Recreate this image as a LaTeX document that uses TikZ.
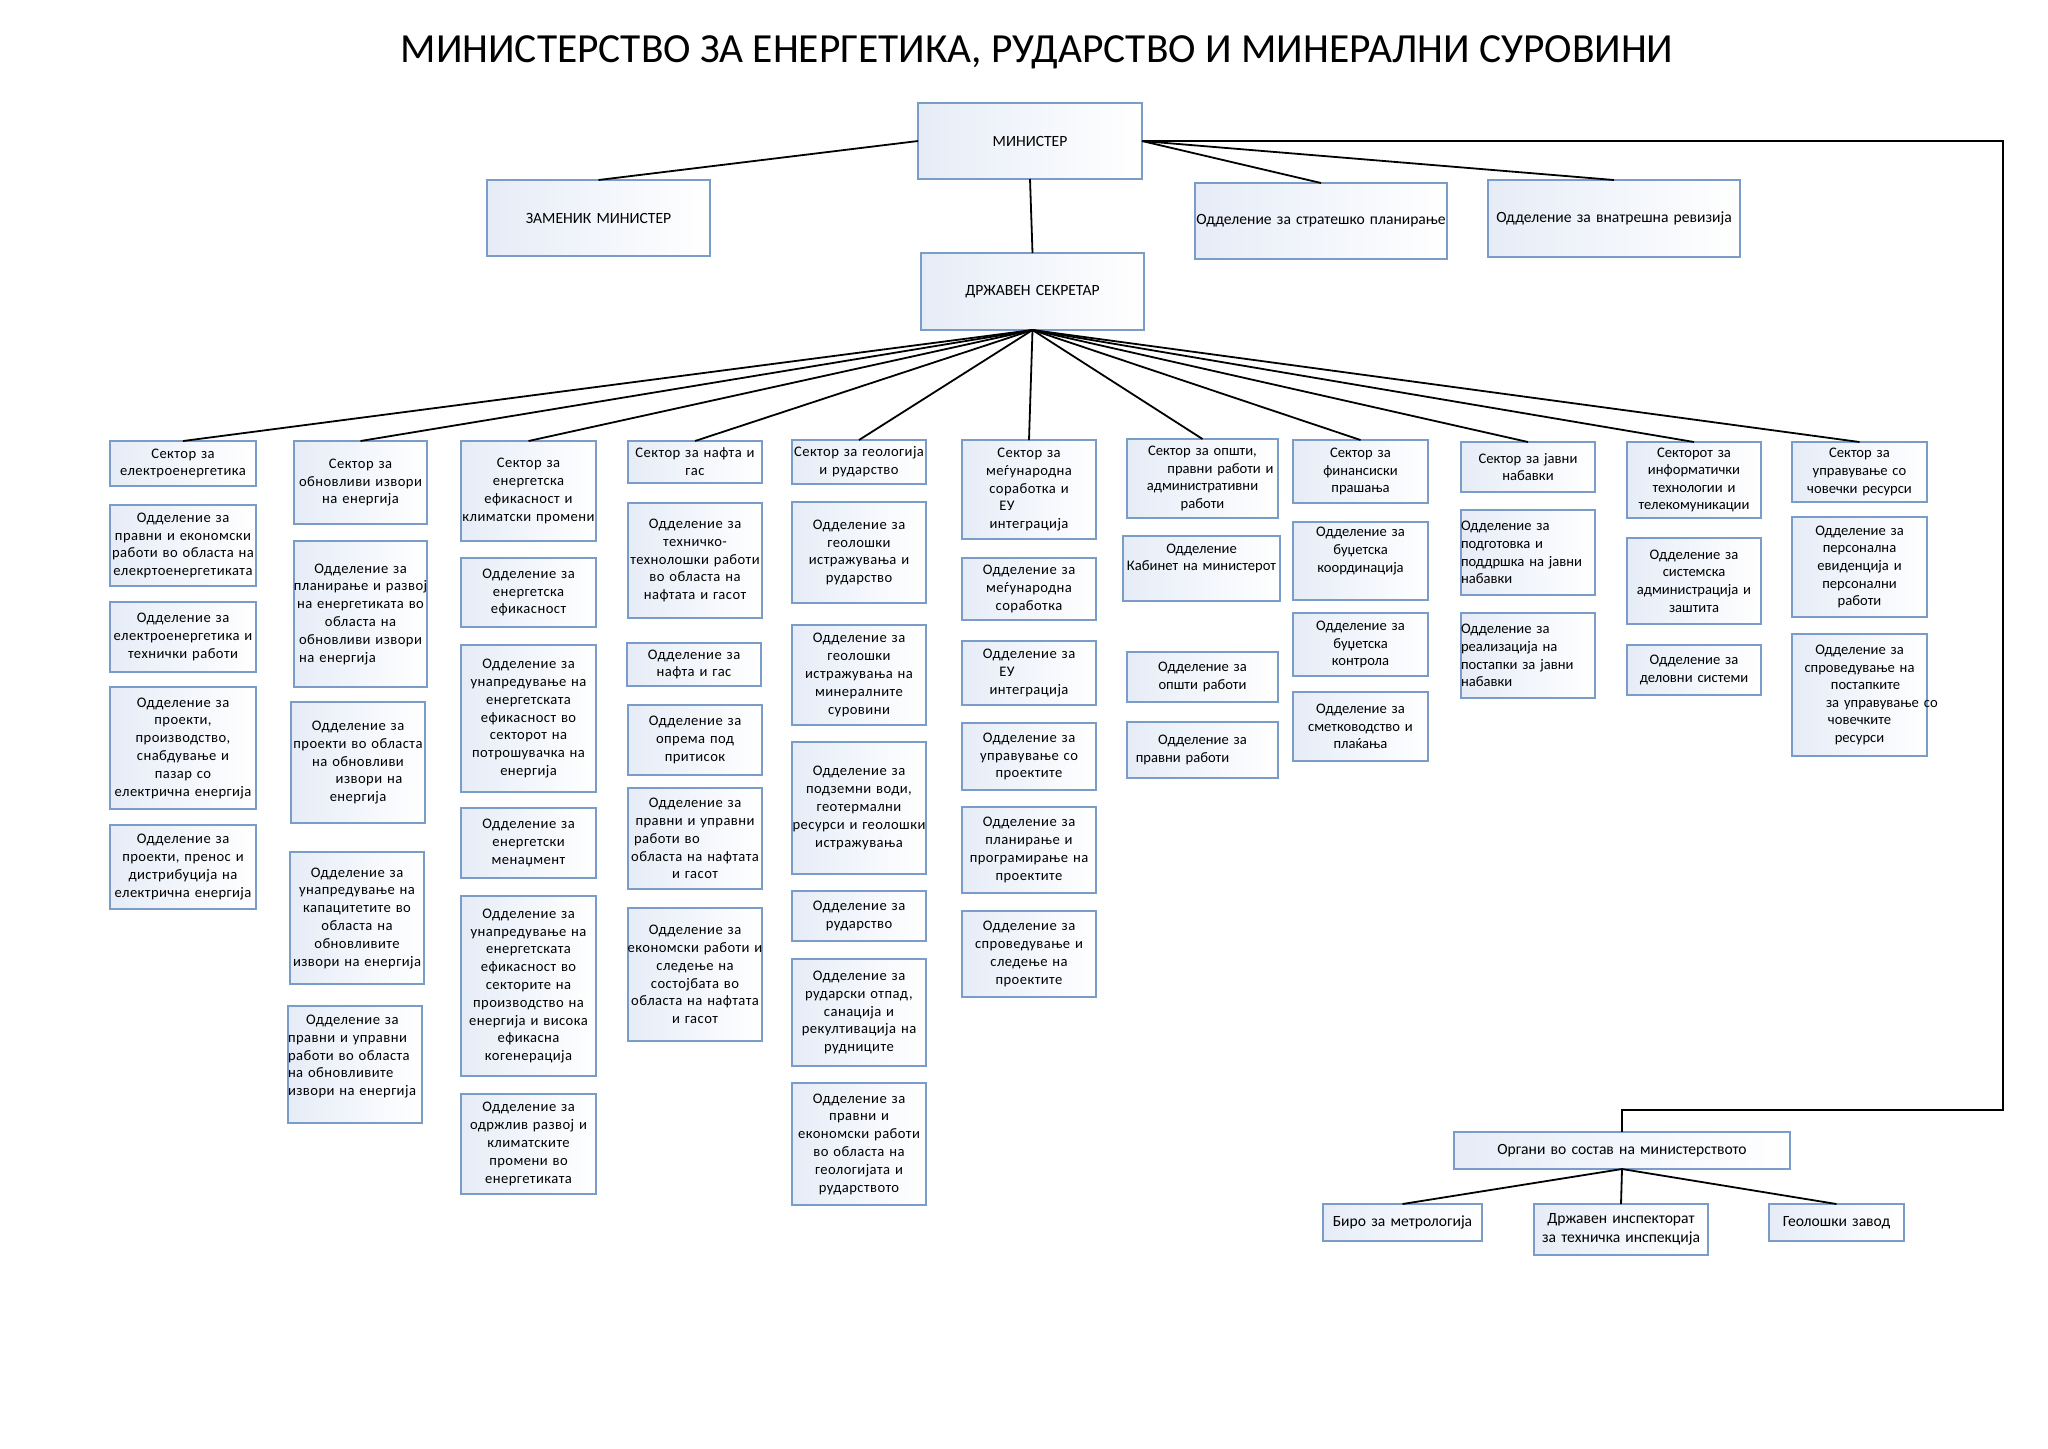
\documentclass[tikz,border=0pt]{standalone}
\usepackage{fontspec}
\setmainfont{Carlito}
\newfontfamily\spcfont[LetterSpace=3]{Carlito}
\hyphenpenalty=10000
\exhyphenpenalty=10000
\definecolor{bord}{RGB}{122,156,201}
\definecolor{fillA}{RGB}{230,236,247}
\tikzset{
  obox/.style={draw=bord, line width=0.75pt, left color=fillA, right color=white,
    inner xsep=-2pt, inner ysep=1pt, align=center, outer sep=0pt},
  fA/.style={font=\spcfont\fontsize{7.3}{8.9}\selectfont},
  fB/.style={font=\fontsize{7.3}{8.8}\selectfont},
  fC/.style={font=\fontsize{7.8}{9.4}\selectfont},
  conn/.style={draw=black, line width=0.9pt},
  bigconn/.style={draw=black, line width=1.3pt},
}
\newcommand{\shft}[2]{\leavevmode\hbox{\kern#1\relax #2}}
\newcommand{\ob}[7][]{%
  \pgfmathsetmacro\obw{(#5-#3)*0.5}%
  \pgfmathsetmacro\obh{(#6-#4)*0.5}%
  \pgfmathsetmacro\obtw{(#5-#3)*0.5+4}%
  \pgfmathsetmacro\obx{(#3+#5)/2}%
  \pgfmathsetmacro\oby{(#4+#6)/2}%
  \node[obox, fA, minimum width=\obw pt, minimum height=\obh pt, text width=\obtw pt, #1] (#2) at (\obx,\oby) {#7};%
}
\begin{document}
\begin{tikzpicture}[x=0.5pt,y=-0.5pt]
\fill[white] (0,0) rectangle (2048,1448);
\node[font=\fontsize{20.7}{25}\selectfont] (title) at (1037,52) {МИНИСТЕРСТВО ЗА ЕНЕРГЕТИКА, РУДАРСТВО И МИНЕРАЛНИ СУРОВИНИ};

% top level
\ob[fC]{min}{918}{103}{1142}{179}{МИНИСТЕР}
\ob[fC]{zam}{487}{180}{710}{256}{ЗАМЕНИК МИНИСТЕР}
\ob[fC]{strat}{1195}{183}{1447}{259}{Одделение за стратешко планирање}
\ob[fC]{rev}{1488}{180}{1740}{257}{Одделение за внатрешна ревизија}
\ob[fC]{drz}{921}{253}{1144}{330}{ДРЖАВЕН СЕКРЕТАР}

% column 1
\ob{s1}{110}{441}{256}{486}{Сектор за\\електроенергетика}
\ob{d1a}{110}{505}{256}{586}{Одделение за\\правни и економски\\работи во областа на\\елекртоенергетиката}
\ob{d1b}{110}{602}{256}{672}{Одделение за\\електроенергетика и\\технички работи}
\ob{d1c}{110}{687}{256}{809}{Одделение за\\проекти,\\производство,\\снабдување и\\пазар со\\електрична енергија}
\ob{d1d}{110}{825}{256}{909}{Одделение за\\проекти, пренос и\\дистрибуција на\\електрична енергија}

% column 2
\ob{s2}{294}{441}{427}{524}{Сектор за\\обновливи извори\\на енергија}
\ob{d2a}{294}{541}{427}{687}{Одделение за\\планирање и развој\\на енергетиката во\\областа на\\обновливи извори\\\shft{-23pt}{на енергија}}
\ob{d2b}{291}{702}{425}{823}{Одделение за\\проекти во областа\\на обновливи\\\shft{11pt}{извори на}\\енергија}
\ob{d2c}{290}{852}{424}{984}{Одделение за\\унапредување на\\капацитетите во\\областа на\\обновливите\\извори на енергија}
\ob[align=left, inner xsep=0pt, text width=\obw pt, text depth=44.8pt]{d2d}{288}{1006}{422}{1123}{\shft{9pt}{Одделение за}\\правни и управни\\работи во областа\\на обновливите\\извори на енергија}

% column 3
\ob{s3}{461}{441}{596}{541}{Сектор за\\енергетска\\ефикасност и\\климатски промени}
\ob{d3a}{461}{558}{596}{627}{Одделение за\\енергетска\\ефикасност}
\ob{d3b}{461}{645}{596}{792}{Одделение за\\унапредување на\\енергетската\\ефикасност во\\секторот на\\потрошувачка на\\енергија}
\ob{d3c}{461}{808}{596}{878}{Одделение за\\енергетски\\менаџмент}
\ob{d3d}{461}{896}{596}{1076}{Одделение за\\унапредување на\\енергетската\\ефикасност во\\секторите на\\производство на\\енергија и висока\\ефикасна\\когенерација}
\ob{d3e}{461}{1094}{596}{1194}{Одделение за\\одржлив развој и\\климатските\\промени во\\енергетиката}

% column 4
\ob{s4}{628}{441}{762}{483}{Сектор за нафта и\\гас}
\ob{d4a}{628}{503}{762}{618}{Одделение за\\техничко-\\технолошки работи\\во областа на\\нафтата и гасот}
\ob{d4b}{627}{643}{761}{686}{Одделение за\\нафта и гас}
\ob{d4c}{628}{705}{762}{775}{Одделение за\\опрема под\\притисок}
\ob{d4d}{628}{788}{762}{889}{Одделение за\\правни и управни\\\shft{-28pt}{работи во}\\областа на нафтата\\и гасот}
\ob{d4e}{628}{908}{762}{1041}{Одделение за\\економски работи и\\следење на\\состојбата во\\областа на нафтата\\и гасот}

% column 5
\ob{s5}{792}{440}{926}{484}{Сектор за геологија\\и рударство}
\ob{d5a}{792}{502}{926}{603}{Одделение за\\геолошки\\истражувања и\\рударство}
\ob{d5b}{792}{625}{926}{725}{Одделение за\\геолошки\\истражувања на\\минералните\\суровини}
\ob{d5c}{792}{742}{926}{874}{Одделение за\\подземни води,\\геотермални\\ресурси и геолошки\\истражувања}
\ob{d5d}{792}{891}{926}{941}{Одделение за\\рударство}
\ob{d5e}{792}{959}{926}{1066}{Одделение за\\рударски отпад,\\санација и\\рекултивација на\\рудниците}
\ob{d5f}{792}{1083}{926}{1205}{Одделение за\\правни и\\економски работи\\во областа на\\геологијата и\\рударството}

% column 6
\ob{s6}{962}{440}{1096}{539}{Сектор за\\меѓународна\\соработка и\\\shft{-22pt}{ЕУ}\\интеграција}
\ob{d6a}{962}{558}{1096}{620}{Одделение за\\меѓународна\\соработка}
\ob{d6b}{962}{641}{1096}{705}{Одделение за\\\shft{-22pt}{ЕУ}\\интеграција}
\ob{d6c}{962}{723}{1096}{790}{Одделение за\\управување со\\проектите}
\ob{d6d}{962}{807}{1096}{893}{Одделение за\\планирање и\\програмирање на\\проектите}
\ob{d6e}{962}{911}{1096}{997}{Одделение за\\спроведување и\\следење на\\проектите}

% column 7
\ob[fB]{s7}{1127}{439}{1278}{518}{Сектор за општи,\\\shft{18pt}{правни работи и}\\административни\\работи}
\ob[fB, text depth=20pt]{d7a}{1123}{536}{1280}{601}{Одделение\\Кабинет на министерот}
\ob[fB]{d7b}{1127}{652}{1278}{702}{Одделение за\\општи работи}
\ob[fB]{d7c}{1127}{722}{1278}{778}{Одделение за\\\shft{-20pt}{правни работи}}

% column 8
\ob[fB]{s8}{1293}{440}{1428}{503}{Сектор за\\финансиски\\прашања}
\ob[fB, text depth=28.8pt]{d8a}{1293}{522}{1428}{600}{Одделение за\\буџетска\\координација}
\ob[fB]{d8b}{1293}{613}{1428}{676}{Одделение за\\буџетска\\контрола}
\ob[fB]{d8c}{1293}{692}{1428}{761}{Одделение за\\сметководство и\\плаќања}

% column 9
\ob[fB]{s9}{1461}{442}{1595}{492}{Сектор за јавни\\набавки}
\ob[fB, align=left, inner xsep=0pt, text width=\obw pt]{d9a}{1461}{510}{1595}{595}{Одделение за\\подготовка и\\поддршка на јавни\\набавки}
\ob[fB, align=left, inner xsep=0pt, text width=\obw pt]{d9b}{1461}{613}{1595}{698}{Одделение за\\реализација на\\постапки за јавни\\набавки}

% column 10
\ob[fB]{s10}{1627}{442}{1761}{518}{Секторот за\\информатички\\технологии и\\телекомуникации}
\ob[fB]{d10a}{1627}{538}{1761}{624}{Одделение за\\системска\\администрација и\\заштита}
\ob[fB]{d10b}{1627}{645}{1761}{695}{Одделение за\\деловни системи}

% column 11
\ob[fB]{s11}{1792}{442}{1927}{502}{Сектор за\\управување со\\човечки ресурси}
\ob[fB]{d11a}{1792}{517}{1927}{617}{Одделение за\\персонална\\евиденција и\\персонални\\работи}
\ob[fB]{d11b}{1792}{634}{1927}{756}{Одделение за\\спроведување на\\\shft{6pt}{постапките}\\\shft{19pt}{за управување со}\\човечките\\ресурси}

% bodies within the ministry
\ob[fC]{org}{1454}{1132}{1790}{1169}{Органи во состав на министерството}
\ob[fC]{biro}{1323}{1204}{1482}{1241}{Биро за метрологија}
\ob[fC]{insp}{1534}{1204}{1708}{1255}{Државен инспекторат\\за техничка инспекција}
\ob[fC]{geo}{1769}{1204}{1904}{1241}{Геолошки завод}

% connectors
\draw[conn] (min.west) -- (zam.north);
\draw[conn] (min.east) -- (strat.north);
\draw[conn] (min.east) -- (rev.north);
\draw[conn] (min.south) -- (drz.north);
\coordinate (rc1) at (2003,141);
\coordinate (rc2) at (2003,1110);
\draw[bigconn] (min.east) -- (rc1) -- (rc2) -| (org.north);
\foreach \s in {s1,s2,s3,s4,s5,s6,s7,s8,s9,s10,s11}
  \draw[conn] (drz.south) -- (\s.north);
\foreach \s in {biro,insp,geo}
  \draw[conn] (org.south) -- (\s.north);
\end{tikzpicture}
\end{document}
